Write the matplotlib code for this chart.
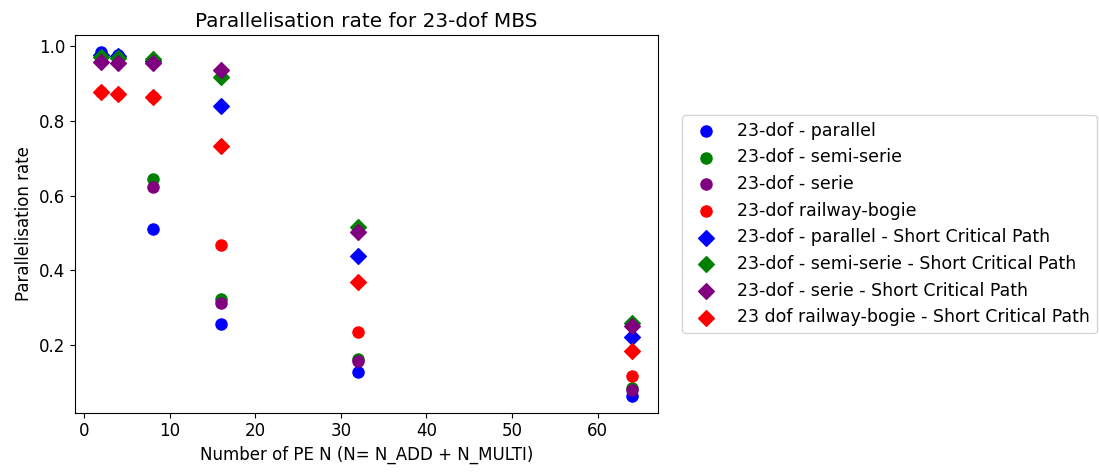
import matplotlib
matplotlib.use("Agg")
import matplotlib.pyplot as plt

pe = [2, 4, 8, 16, 32, 64]

# Parallelisation rate per configuration
parallel = [0.984, 0.978, 0.512, 0.256, 0.128, 0.065]
semi_serie = [0.975, 0.972, 0.645, 0.323, 0.163, 0.085]
serie = [0.965, 0.962, 0.624, 0.312, 0.157, 0.08]
railway = [0.877, 0.873, 0.864, 0.469, 0.235, 0.117]

parallel_scp = [0.978, 0.975, 0.96, 0.84, 0.44, 0.222]
semi_serie_scp = [0.971, 0.968, 0.965, 0.917, 0.516, 0.26]
serie_scp = [0.957, 0.955, 0.955, 0.937, 0.502, 0.252]
railway_scp = [0.877, 0.873, 0.864, 0.733, 0.368, 0.184]

plt.rcParams["font.size"] = 12

fig = plt.figure(figsize=(10.99, 4.75), dpi=100)
ax = fig.add_axes([0.068, 0.131, 0.531, 0.795])

ax.scatter(pe, parallel, color="blue", s=64, label="23-dof - parallel")
ax.scatter(pe, semi_serie, color="green", s=64, label="23-dof - semi-serie")
ax.scatter(pe, serie, color="purple", s=64, label="23-dof - serie")
ax.scatter(pe, railway, color="red", s=64, label="23-dof railway-bogie")
ax.scatter(pe, parallel_scp, color="blue", marker="D", s=64, label="23-dof - parallel - Short Critical Path")
ax.scatter(pe, semi_serie_scp, color="green", marker="D", s=64, label="23-dof - semi-serie - Short Critical Path")
ax.scatter(pe, serie_scp, color="purple", marker="D", s=64, label="23-dof - serie - Short Critical Path")
ax.scatter(pe, railway_scp, color="red", marker="D", s=64, label="23 dof railway-bogie - Short Critical Path")

ax.set_title("Parallelisation rate for 23-dof MBS")
ax.set_xlabel("Number of PE N (N= N_ADD + N_MULTI)")
ax.set_ylabel("Parallelisation rate")
ax.legend(loc="center left", bbox_to_anchor=(1.025, 0.5), fontsize=12.5)

fig.savefig("out.png")
